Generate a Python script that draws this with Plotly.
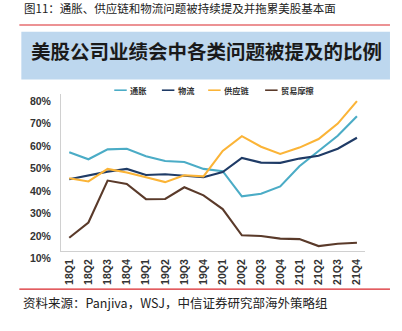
import plotly.graph_objects as go

quarters = ["18Q1", "18Q2", "18Q3", "18Q4", "19Q1", "19Q2", "19Q3", "19Q4",
            "20Q1", "20Q2", "20Q3", "20Q4", "21Q1", "21Q2", "21Q3", "21Q4"]
inflation = [54.0, 50.9, 55.3, 55.6, 52.2, 50.1, 49.7, 46.6,
             45.6, 34.4, 35.5, 38.8, 47.8, 54.4, 61.4, 70.1]
logistics = [42.0, 43.8, 45.4, 46.6, 43.9, 44.2, 43.5, 42.9,
             45.2, 51.5, 49.4, 49.3, 51.2, 52.5, 55.6, 60.5]
supply_chain = [42.4, 41.0, 46.6, 45.0, 42.9, 40.7, 43.8, 43.3,
                54.6, 61.2, 56.5, 53.3, 56.1, 59.9, 66.8, 76.8]
trade_friction = [15.9, 22.7, 41.4, 39.9, 33.1, 33.2, 38.4, 34.8,
                  28.7, 17.0, 16.7, 15.5, 15.3, 12.2, 13.2, 13.7]

series_names = ["通胀", "物流", "供应链", "贸易摩擦"]
series_values = [inflation, logistics, supply_chain, trade_friction]
series_colors = ["#4bacc6", "#1f3b66", "#fbb437", "#5a3a2a"]

y_ticks = [10, 20, 30, 40, 50, 60, 70, 80]
y_tick_labels = [f"{v}%" for v in y_ticks]

title_text = "美股公司业绩会中各类问题被提及的比例"
caption_text = "图11：通胀、供应链和物流问题被持续提及并拖累美股基本面"
source_text = "资料来源：Panjiva，WSJ，中信证券研究部海外策略组"

FONT = "Liberation Sans, Arial, Noto Sans CJK SC, sans-serif"
CJK = "Noto Sans CJK SC, sans-serif"

W, H = 402, 331
L, R, T, B = 60.7, 37, 93.5, 80
pw, ph = W - L - R, H - T - B


def px_x(x):
    return (x - L) / pw


def px_y(y):
    return (H - B - y) / ph


fig = go.Figure()
for name, vals, col in zip(series_names, series_values, series_colors):
    fig.add_trace(go.Scatter(x=quarters, y=vals, mode="lines", name=name,
                             line=dict(color=col, width=2.1), showlegend=False))

shapes = []
annotations = []

# title box
shapes.append(dict(type="rect", xref="paper", yref="paper", layer="below",
                   x0=px_x(21), x1=px_x(390), y0=px_y(79), y1=px_y(31),
                   fillcolor="#bdd7ee", line=dict(width=0)))
annotations.append(dict(xref="paper", yref="paper", x=px_x(206), y=px_y(49.5),
                        text=f"<b>{title_text}</b>", showarrow=False,
                        font=dict(family=CJK, size=19.5, color="#1a1a1a"),
                        xanchor="center", yanchor="middle"))
# red rules
for yy in (24.3, 289.3):
    shapes.append(dict(type="line", xref="paper", yref="paper",
                       x0=px_x(19), x1=px_x(390), y0=px_y(yy), y1=px_y(yy),
                       line=dict(color="#d9262b", width=1.2)))
# caption at top
annotations.append(dict(xref="paper", yref="paper", x=px_x(22), y=px_y(7.5),
                        text=caption_text, showarrow=False,
                        font=dict(family=CJK, size=11.5, color="#222"),
                        xanchor="left", yanchor="middle"))
# source
annotations.append(dict(xref="paper", yref="paper", x=px_x(21), y=px_y(302.5),
                        text=source_text, showarrow=False,
                        font=dict(family=CJK, size=12.5, color="#222"),
                        xanchor="left", yanchor="middle"))

# custom legend
legend_x = [114, 161.7, 208, 265]
legend_y = 89.7
for name, col, lx in zip(series_names, series_colors, legend_x):
    shapes.append(dict(type="line", xref="paper", yref="paper",
                       x0=px_x(lx), x1=px_x(lx + 12.5), y0=px_y(legend_y), y1=px_y(legend_y),
                       line=dict(color=col, width=1.6)))
    annotations.append(dict(xref="paper", yref="paper", x=px_x(lx + 14), y=px_y(legend_y),
                            text=f"<b>{name}</b>", showarrow=False,
                            font=dict(family=CJK, size=8.2, color="#333"),
                            xanchor="left", yanchor="middle"))

fig.update_layout(
    width=W, height=H,
    margin=dict(l=L, r=R, t=T, b=B, pad=0),
    paper_bgcolor="white", plot_bgcolor="white",
    font=dict(family=FONT),
    shapes=shapes, annotations=annotations,
    xaxis=dict(type="category", range=[-0.43, 15.42], tickangle=-90,
               showgrid=False, zeroline=False, showline=True, linecolor="#d0d0d0",
               linewidth=1, ticks="", ticklabelstandoff=3,
               tickvals=quarters, ticktext=[f"<b>{q}</b>" for q in quarters],
               tickfont=dict(family=FONT, size=10.5, color="#333")),
    yaxis=dict(range=[10, 80], tickvals=y_ticks, ticktext=[f"<b>{t}</b>" for t in y_tick_labels],
               showgrid=False, zeroline=False, showline=True, linecolor="#d0d0d0",
               linewidth=1, ticks="", ticklabelposition="outside bottom",
               ticklabelstandoff=7,
               tickfont=dict(family=FONT, size=10.5, color="#333")),
)

fig.write_html("out.html")
